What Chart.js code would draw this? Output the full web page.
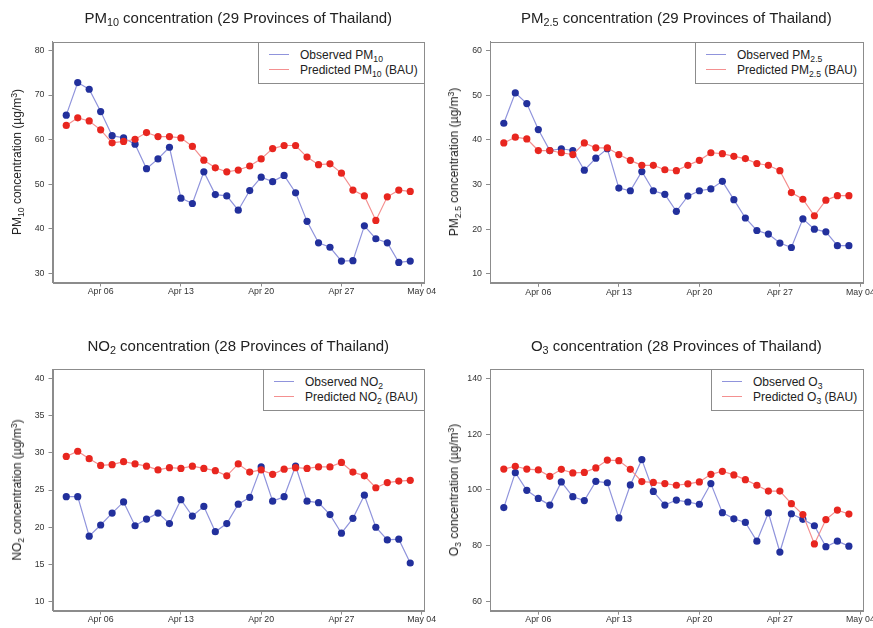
<!DOCTYPE html>
<html><head><meta charset="utf-8">
<script src="https://cdn.jsdelivr.net/npm/chart.js@4.4.1/dist/chart.umd.min.js"></script>
<style>
html,body{margin:0;padding:0;background:#fff;}
#wrap{position:relative;width:873px;height:628px;overflow:hidden;font-family:"Liberation Sans",Arial,sans-serif;color:#222;}
canvas{position:absolute;}
.title{position:absolute;font-size:15px;line-height:15px;white-space:nowrap;transform:translateX(-50%);}
.ylab{position:absolute;font-size:12px;line-height:12px;white-space:nowrap;transform:translate(-50%,-50%) rotate(-90deg);}
.sub{font-size:0.72em;vertical-align:-0.3em;line-height:0;}
.sup{font-size:0.72em;vertical-align:0.5em;line-height:0;}
.legend{position:absolute;border:1px solid #8c8c8c;background:#fff;padding:5px 6px 5px 10px;font-size:12px;color:#222;}
.row{display:block;height:15px;line-height:15px;white-space:nowrap;}
.seg{display:inline-block;width:20px;height:0;border-top:1px solid;margin-right:11px;vertical-align:middle;position:relative;top:-1px;}
</style></head><body><div id="wrap"></div>
<script>
// ---- data ----
const dates = ['2020-04-03','2020-04-04','2020-04-05','2020-04-06','2020-04-07','2020-04-08','2020-04-09','2020-04-10',
  '2020-04-11','2020-04-12','2020-04-13','2020-04-14','2020-04-15','2020-04-16','2020-04-17','2020-04-18','2020-04-19',
  '2020-04-20','2020-04-21','2020-04-22','2020-04-23','2020-04-24','2020-04-25','2020-04-26','2020-04-27','2020-04-28',
  '2020-04-29','2020-04-30','2020-05-01','2020-05-02','2020-05-03'];
const xTickDates = ['2020-04-06','2020-04-13','2020-04-20','2020-04-27','2020-05-04'];
const xTickLabels = ['Apr 06','Apr 13','Apr 20','Apr 27','May 04'];

const pm10Observed  = [65.5,72.8,71.3,66.3,60.9,60.4,59.0,53.5,55.7,58.3,46.9,45.7,52.8,47.7,47.4,44.2,48.6,51.6,50.6,52.0,48.1,41.7,36.9,35.9,32.8,32.9,40.7,37.8,36.9,32.5,32.8];
const pm10Predicted = [63.2,64.9,64.2,62.2,59.3,59.6,60.1,61.6,60.7,60.7,60.4,58.5,55.4,53.7,52.8,53.2,54.1,55.7,58.0,58.7,58.7,56.1,54.4,54.6,52.5,48.7,47.4,41.9,47.2,48.7,48.4];
const pm25Observed  = [43.7,50.5,48.1,42.3,37.6,38.0,37.6,33.2,35.9,38.0,29.2,28.6,32.9,28.6,27.8,24.0,27.4,28.6,29.0,30.7,26.6,22.5,19.7,18.9,16.9,15.9,22.3,20.0,19.4,16.3,16.3];
const pm25Predicted = [39.3,40.6,40.2,37.6,37.6,37.1,36.7,39.3,38.2,38.2,36.7,35.4,34.3,34.3,33.3,33.1,34.3,35.4,37.1,36.9,36.3,35.8,34.7,34.3,33.1,28.2,26.7,23.0,26.5,27.5,27.5];
const no2Observed   = [24.1,24.1,18.8,20.3,21.9,23.4,20.2,21.1,21.9,20.5,23.7,21.5,22.8,19.4,20.5,23.1,24.0,28.1,23.5,24.1,28.2,23.5,23.3,21.7,19.2,21.2,24.3,20.0,18.3,18.4,15.2];
const no2Predicted  = [29.5,30.2,29.2,28.3,28.4,28.8,28.5,28.2,27.7,28.0,27.9,28.2,27.9,27.6,26.9,28.5,27.4,27.7,27.1,27.8,28.0,27.9,28.1,28.1,28.7,27.4,26.9,25.3,26.0,26.2,26.3];
const o3Observed    = [93.7,106.2,99.9,97.0,94.6,102.9,97.6,96.2,103.1,102.6,90.0,101.8,110.9,99.5,94.6,96.4,95.7,94.9,102.3,91.9,89.7,88.4,81.7,91.8,77.8,91.5,89.5,87.2,79.7,81.7,79.9];
const o3Predicted   = [107.5,108.5,107.5,107.2,104.9,107.4,106.1,106.3,107.9,110.7,110.5,107.4,103.0,102.7,102.3,101.7,102.2,102.9,105.6,106.7,105.4,103.7,101.7,99.6,99.6,95.1,91.2,80.7,89.4,92.8,91.4];

const pm10Ticks = [30,40,50,60,70,80];
const pm25Ticks = [10,20,30,40,50,60];
const no2Ticks  = [10,15,20,25,30,35,40];
const o3Ticks   = [60,80,100,120,140];

// ---- helpers ----
function dayNum(s){ const [y,m,d]=s.split('-').map(Number); return (Date.UTC(y,m-1,d)-Date.UTC(2020,3,0))/864e5; }
const xs = dates.map(dayNum);
const xTickDays = xTickDates.map(dayNum);
const xSpan = xs[xs.length-1]-xs[0];
const xMin = xs[0]-0.04*xSpan, xMax = xs[xs.length-1]+0.04*xSpan;

const BLUE_LINE='#9094dc', BLUE_PT='#22309c', RED_LINE='#f49090', RED_PT='#e8261f', AXIS='#8c8c8c';
const wrap = document.getElementById('wrap');

const boxPlugin = {id:'box', afterDraw(c){const a=c.chartArea,ctx=c.ctx;ctx.save();ctx.strokeStyle=AXIS;ctx.lineWidth=1;
  ctx.strokeRect(Math.round(a.left)+0.5,Math.round(a.top)+0.5,Math.round(a.right)-Math.round(a.left),Math.round(a.bottom)-Math.round(a.top));ctx.restore();}};

function rich(parts){ return parts.map(p=> typeof p==='string' ? p : `<span class="${p[0]}">${p[1]}</span>`).join(''); }

function makePanel(p){
  const cv=document.createElement('canvas'); cv.width=p.w; cv.height=p.h;
  cv.style.left=p.x+'px'; cv.style.top=p.y+'px'; wrap.appendChild(cv);
  const lo=p.ticks[0], hi=p.ticks[p.ticks.length-1], ext=0.04*(hi-lo);
  const tickFont={family:'"Liberation Sans", Arial, sans-serif', size:8.8};
  const chart=new Chart(cv,{type:'line',
    data:{datasets:[
      {data:xs.map((x,i)=>({x,y:p.obs[i]})),borderColor:BLUE_LINE,borderWidth:1.2,pointBackgroundColor:BLUE_PT,pointBorderWidth:0,pointRadius:3.6,order:1},
      {data:xs.map((x,i)=>({x,y:p.pred[i]})),borderColor:RED_LINE,borderWidth:1.2,pointBackgroundColor:RED_PT,pointBorderWidth:0,pointRadius:3.6,order:0}
    ]},
    options:{responsive:false,animation:false,devicePixelRatio:1,
      layout:{padding:{left:0,top:p.top,right:p.w-p.right,bottom:0}},
      plugins:{legend:{display:false},tooltip:{enabled:false}},
      scales:{
        x:{type:'linear',min:xMin,max:xMax,
          afterBuildTicks:s=>{s.ticks=xTickDays.map(v=>({value:v}));},
          afterFit:s=>{s.height=p.h-p.bottom;s.paddingLeft=0;s.paddingRight=0;},
          ticks:{autoSkip:false,maxRotation:0,padding:0,color:'#333',font:tickFont,callback:v=>xTickLabels[xTickDays.indexOf(v)]},
          grid:{drawOnChartArea:false,drawTicks:true,tickLength:4,color:AXIS},border:{color:AXIS}},
        y:{type:'linear',min:lo-ext,max:hi+ext,
          afterBuildTicks:s=>{s.ticks=p.ticks.map(v=>({value:v}));},
          afterFit:s=>{s.width=p.left;s.paddingTop=0;s.paddingBottom=0;},
          ticks:{padding:4,color:'#333',font:tickFont,callback:v=>String(v)},
          grid:{drawOnChartArea:false,drawTicks:true,tickLength:4,color:AXIS},border:{color:AXIS}}
      }},
    plugins:[boxPlugin]});
  const a=chart.chartArea;
  const t=document.createElement('div'); t.className='title'; t.innerHTML=rich(p.title);
  t.style.left=(p.x+(a.left+a.right)/2)+'px'; t.style.top=(p.y+a.top-31.5)+'px'; wrap.appendChild(t);
  const yl=document.createElement('div'); yl.className='ylab'; yl.innerHTML=rich(p.ylab);
  yl.style.left=(p.x+a.left-36)+'px'; yl.style.top=(p.y+(a.top+a.bottom)/2)+'px'; wrap.appendChild(yl);
  const lg=document.createElement('div'); lg.className='legend';
  lg.innerHTML=`<div class="row"><span class="seg" style="border-color:${BLUE_LINE}"></span><span>${rich(p.leg[0])}</span></div>`+
               `<div class="row"><span class="seg" style="border-color:${RED_LINE}"></span><span>${rich(p.leg[1])}</span></div>`;
  wrap.appendChild(lg);
  lg.style.left=(p.x+Math.round(a.right)+1-lg.offsetWidth)+'px'; lg.style.top=(p.y+Math.round(a.top))+'px';
}

makePanel({x:0,y:0,w:436,h:314,left:52.5,right:424,top:41.5,bottom:282.5,ticks:pm10Ticks,obs:pm10Observed,pred:pm10Predicted,
  title:['PM',['sub','10'],' concentration (29 Provinces of Thailand)'],
  ylab:['PM',['sub','10'],' concentration (µg/m',['sup','3'],')'],
  leg:[['Observed PM',['sub','10']],['Predicted PM',['sub','10'],' (BAU)']]});
makePanel({x:436,y:0,w:437,h:314,left:54,right:426.7,top:41.5,bottom:282.8,ticks:pm25Ticks,obs:pm25Observed,pred:pm25Predicted,
  title:['PM',['sub','2.5'],' concentration (29 Provinces of Thailand)'],
  ylab:['PM',['sub','2.5'],' concentration (µg/m',['sup','3'],')'],
  leg:[['Observed PM',['sub','2.5']],['Predicted PM',['sub','2.5'],' (BAU)']]});
makePanel({x:0,y:314,w:436,h:314,left:52.5,right:424,top:55.3,bottom:296.7,ticks:no2Ticks,obs:no2Observed,pred:no2Predicted,
  title:['NO',['sub','2'],' concentration (28 Provinces of Thailand)'],
  ylab:['NO',['sub','2'],' concentration (µg/m',['sup','3'],')'],
  leg:[['Observed NO',['sub','2']],['Predicted NO',['sub','2'],' (BAU)']]});
makePanel({x:436,y:314,w:437,h:314,left:54,right:426.7,top:55.3,bottom:296.7,ticks:o3Ticks,obs:o3Observed,pred:o3Predicted,
  title:['O',['sub','3'],' concentration (28 Provinces of Thailand)'],
  ylab:['O',['sub','3'],' concentration (µg/m',['sup','3'],')'],
  leg:[['Observed O',['sub','3']],['Predicted O',['sub','3'],' (BAU)']]});
</script></body></html>
